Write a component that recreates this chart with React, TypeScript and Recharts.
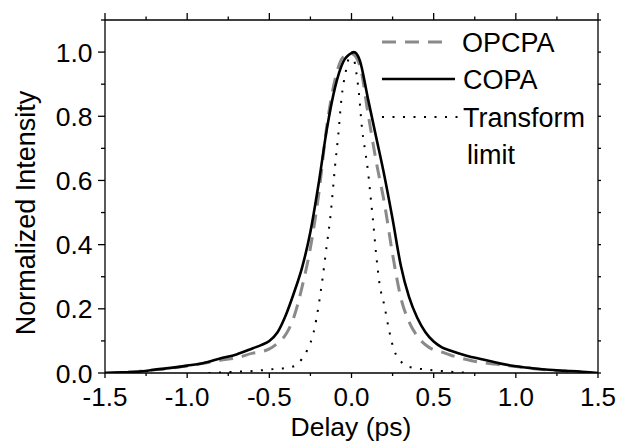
import { Legend, Line, LineChart, XAxis, YAxis } from 'recharts';

const FONT = '"Liberation Sans", Arial, Helvetica, sans-serif';

// COPA (solid black)
const copaDelay = [
  -1.5, -1.4, -1.3, -1.2, -1.1, -1.0, -0.9, -0.8, -0.7, -0.6, -0.55, -0.5, -0.45, -0.4, -0.35, -0.3,
  -0.25, -0.2, -0.15, -0.1, -0.05, 0, 0.015, 0.05, 0.1, 0.15, 0.2, 0.25, 0.3, 0.35, 0.4, 0.45, 0.5,
  0.55, 0.6, 0.7, 0.8, 0.9, 1.0, 1.1, 1.2, 1.3, 1.4, 1.5,
];
const copaIntensity = [
  0, 0.002, 0.004, 0.01, 0.016, 0.023, 0.031, 0.045, 0.058, 0.077, 0.087, 0.1, 0.127, 0.18, 0.25,
  0.33, 0.44, 0.59, 0.76, 0.89, 0.97, 0.997, 1.0, 0.975, 0.855, 0.735, 0.615, 0.48, 0.335, 0.237,
  0.172, 0.127, 0.098, 0.08, 0.07, 0.054, 0.042, 0.03, 0.021, 0.015, 0.01, 0.007, 0.004, 0,
];

// OPCPA (grey dashed)
const opcpaDelay = [
  -1.5, -1.4, -1.3, -1.2, -1.1, -1.0, -0.9, -0.8, -0.7, -0.6, -0.55, -0.5, -0.45, -0.4, -0.35, -0.3,
  -0.25, -0.2, -0.15, -0.1, -0.05, 0, 0.05, 0.1, 0.15, 0.2, 0.25, 0.3, 0.35, 0.4, 0.45, 0.5, 0.55,
  0.6, 0.7, 0.8, 0.9, 1.0, 1.1, 1.2, 1.3, 1.4, 1.5,
];
const opcpaIntensity = [
  0, 0.002, 0.005, 0.01, 0.015, 0.022, 0.03, 0.04, 0.047, 0.062, 0.066, 0.075, 0.093, 0.12, 0.175,
  0.27, 0.39, 0.555, 0.77, 0.915, 0.985, 0.995, 0.96, 0.81, 0.66, 0.53, 0.37, 0.235, 0.16, 0.115,
  0.088, 0.072, 0.065, 0.056, 0.042, 0.032, 0.026, 0.02, 0.014, 0.009, 0.006, 0.003, 0,
];

// Transform limit (dotted)
const tlDelay = [
  -0.87, -0.7, -0.6, -0.5, -0.4, -0.35, -0.3, -0.27, -0.23, -0.2, -0.18, -0.15, -0.13, -0.1, -0.08,
  -0.06, -0.037, 0, 0.03, 0.045, 0.065, 0.085, 0.1, 0.12, 0.13, 0.15, 0.17, 0.2, 0.23, 0.26, 0.29,
  0.35, 0.45, 0.58, 0.72,
];
const tlIntensity = [
  0, 0.004, 0.006, 0.011, 0.016, 0.021, 0.045, 0.071, 0.128, 0.21, 0.28, 0.4, 0.48, 0.645, 0.745,
  0.86, 0.934, 1.0, 0.934, 0.872, 0.757, 0.686, 0.63, 0.53, 0.48, 0.37, 0.28, 0.21, 0.13, 0.07,
  0.043, 0.019, 0.011, 0.005, 0,
];

const xTicks = [
  -1.5, -1.25, -1.0, -0.75, -0.5, -0.25, 0, 0.25, 0.5, 0.75, 1.0, 1.25, 1.5,
];
const yTicks = [0, 0.1, 0.2, 0.3, 0.4, 0.5, 0.6, 0.7, 0.8, 0.9, 1.0, 1.1];

const zip = (xs: number[], ys: number[]) => xs.map((x, i) => ({ x, y: ys[i] }));
const copaData = zip(copaDelay, copaIntensity);
const opcpaData = zip(opcpaDelay, opcpaIntensity);
const tlData = zip(tlDelay, tlIntensity);

const GREY = '#8a8a8a';
const isMultiple = (v: number, step: number) => Math.abs(v / step - Math.round(v / step)) < 1e-6;

const BottomTick = ({ x, y, payload }: any) => {
  const major = isMultiple(payload.value, 0.5);
  return (
    <g>
      <line x1={x} x2={x} y1={y} y2={y + (major ? 5 : 3)} stroke="#000" strokeWidth={1.3} />
      {major && (
        <text x={x} y={y + 33} textAnchor="middle" fontSize={26} fontFamily={FONT} fill="#000">
          {payload.value.toFixed(1)}
        </text>
      )}
    </g>
  );
};

const TopTick = ({ x, y, payload }: any) => {
  const major = isMultiple(payload.value, 0.5);
  return <line x1={x} x2={x} y1={y} y2={y - (major ? 7 : 3.5)} stroke="#000" strokeWidth={1.3} />;
};

const LeftTick = ({ x, y, payload }: any) => {
  const major = isMultiple(payload.value, 0.2) && payload.value < 1.05;
  return (
    <g>
      <line x1={x} x2={x - (major ? 7 : 4)} y1={y} y2={y} stroke="#000" strokeWidth={1.3} />
      {major && (
        <text x={x - 12.5} y={y + 9.5} textAnchor="end" fontSize={26.5} fontFamily={FONT} fill="#000">
          {payload.value.toFixed(1)}
        </text>
      )}
    </g>
  );
};

const RightTick = ({ x, y }: any) => (
  <line x1={x} x2={x + 3} y1={y} y2={y} stroke="#000" strokeWidth={1.3} />
);

const LegendBox = () => (
  <svg width={240} height={160} style={{ display: 'block' }}>
    <line x1={12} x2={75} y1={22} y2={22} stroke={GREY} strokeWidth={3} strokeDasharray="14 9" />
    <text x={92} y={32} fontSize={27} fontFamily={FONT}>OPCPA</text>
    <line x1={12} x2={85} y1={59} y2={59} stroke="#000" strokeWidth={2.6} />
    <text x={93} y={69} fontSize={27} fontFamily={FONT}>COPA</text>
    <line x1={12} x2={92} y1={97} y2={97} stroke="#000" strokeWidth={2} strokeDasharray="2 8.5" />
    <text x={93} y={107} fontSize={27} fontFamily={FONT}>Transform</text>
    <text x={97} y={144} fontSize={27} fontFamily={FONT}>limit</text>
  </svg>
);

const App = () => {
  return (
    <div style={{ position: 'absolute', left: 0, top: 0, width: 621, height: 446, background: '#fff' }}>
      <LineChart width={621} height={446} margin={{ top: 10, right: 13, left: 0, bottom: 0 }}>
        <XAxis
          type="number"
          dataKey="x"
          domain={[-1.5, 1.5]}
          ticks={xTicks}
          allowDataOverflow
          height={73}
          tickSize={0}
          tickMargin={0}
          tickLine={false}
          interval={0}
          axisLine={{ stroke: '#000', strokeWidth: 1.3 }}
          tick={<BottomTick />}
          label={{
            content: () => (
              <text x={351} y={436} textAnchor="middle" fontSize={26.5} fontFamily={FONT} fill="#000">
                Delay (ps)
              </text>
            ),
          }}
        />
        <XAxis
          xAxisId="top"
          orientation="top"
          type="number"
          dataKey="x"
          domain={[-1.5, 1.5]}
          ticks={xTicks}
          allowDataOverflow
          height={10}
          tickSize={0}
          tickMargin={0}
          tickLine={false}
          interval={0}
          axisLine={{ stroke: '#000', strokeWidth: 1.3 }}
          tick={<TopTick />}
        />
        <YAxis
          type="number"
          domain={[0, 1.1]}
          ticks={yTicks}
          allowDataOverflow
          width={105}
          tickSize={0}
          tickMargin={0}
          tickLine={false}
          interval={0}
          axisLine={{ stroke: '#000', strokeWidth: 1.3 }}
          tick={<LeftTick />}
          label={{
            content: () => (
              <text
                x={35}
                y={213}
                transform="rotate(-90 35 213)"
                textAnchor="middle"
                fontSize={27}
                fontFamily={FONT}
                fill="#000"
              >
                Normalized Intensity
              </text>
            ),
          }}
        />
        <YAxis
          yAxisId="right"
          orientation="right"
          type="number"
          domain={[0, 1.1]}
          ticks={yTicks}
          allowDataOverflow
          width={10}
          tickSize={0}
          tickMargin={0}
          tickLine={false}
          interval={0}
          axisLine={{ stroke: '#000', strokeWidth: 1.3 }}
          tick={<RightTick />}
        />
        <Legend
          layout="horizontal"
          verticalAlign="middle"
          align="center"
          wrapperStyle={{ left: 370, top: 20, width: 240, height: 160 }}
          content={<LegendBox />}
        />
        <Line
          data={tlData}
          dataKey="y"
          type="monotone"
          stroke="#000"
          strokeWidth={2}
          strokeDasharray="2 8.5"
          dot={false}
          activeDot={false}
          isAnimationActive={false}
        />
        <Line
          data={opcpaData}
          dataKey="y"
          type="monotone"
          stroke={GREY}
          strokeWidth={3}
          strokeDasharray="14 9"
          dot={false}
          activeDot={false}
          isAnimationActive={false}
        />
        <Line
          data={copaData}
          dataKey="y"
          type="monotone"
          stroke="#000"
          strokeWidth={2.6}
          dot={false}
          activeDot={false}
          isAnimationActive={false}
        />
      </LineChart>
    </div>
  );
};

export default App;
